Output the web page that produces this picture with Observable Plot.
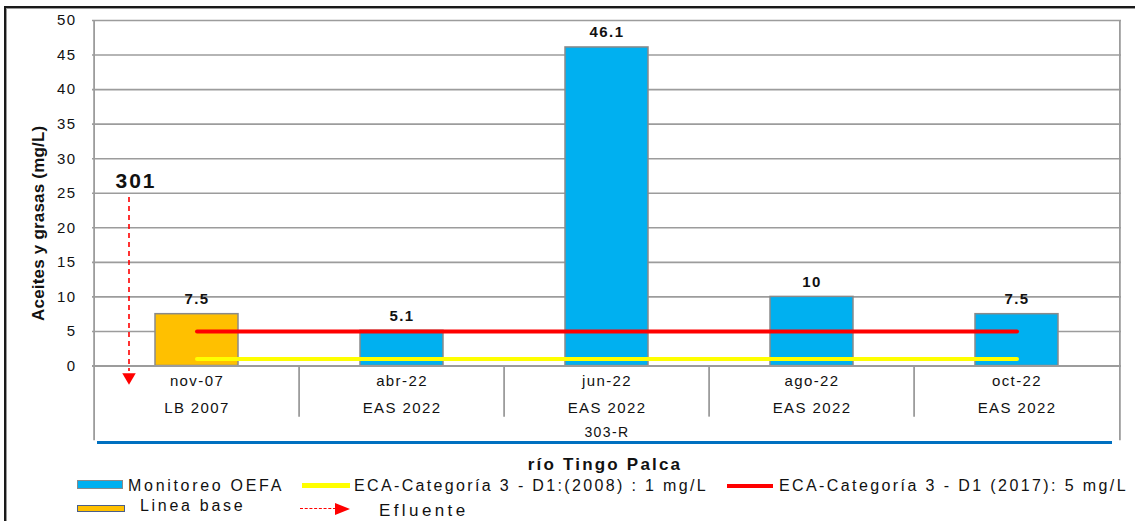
<!DOCTYPE html>
<html>
<head>
<meta charset="utf-8">
<script src="https://cdn.jsdelivr.net/npm/d3@7"></script>
<script src="https://cdn.jsdelivr.net/npm/@observablehq/plot@0.6"></script>
<style>
  body { margin: 0; background: #fff; }
  #wrap { position: relative; width: 1135px; height: 521px; overflow: hidden; font-family: "Liberation Sans", Arial, sans-serif; color: #111; }
  #border { position: absolute; left: 4px; top: 6px; width: 1300px; height: 700px; border: 2px solid #1a1a1a; box-shadow: 1px 1px 0 #999 inset; }
  #chart { position: absolute; left: 0; top: 0; }
  .leg { position: absolute; white-space: nowrap; line-height: 18px; font-size: 16px; }
  .sw { position: absolute; }
</style>
</head>
<body>
<div id="wrap">
  <div id="border"></div>
  <div id="chart"></div>
  <div id="legend"></div>
</div>
<script>
// ---- data ----
const fechas   = ["nov-07", "abr-22", "jun-22", "ago-22", "oct-22"];
const campanas = ["LB 2007", "EAS 2022", "EAS 2022", "EAS 2022", "EAS 2022"];
const valores  = [7.5, 5.1, 46.1, 10, 7.5];
const tipos    = ["Linea base", "Monitoreo OEFA", "Monitoreo OEFA", "Monitoreo OEFA", "Monitoreo OEFA"];
const estacion = "303-R";
const punto    = "301";
const rio      = "río Tingo Palca";
const eca2008  = 1;   // ECA-Categoría 3 - D1:(2008)
const eca2017  = 5;   // ECA-Categoría 3 - D1 (2017)
const yTicks   = [0, 5, 10, 15, 20, 25, 30, 35, 40, 45, 50];
const yTitle   = "Aceites y grasas (mg/L)";

const colores = {"Monitoreo OEFA": "#00B0F0", "Linea base": "#FFC000"};
const data = fechas.map((f, i) => ({fecha: f, campana: campanas[i], valor: valores[i], tipo: tipos[i]}));

const W = 1135, H = 450, mL = 92, mR = 14, mT = 20, mB = 84.5;
const step = (W - mL - mR) / fechas.length;
const grid = "#9c9c9c";

const plot = Plot.plot({
  width: W, height: H,
  marginLeft: mL, marginRight: mR, marginTop: mT, marginBottom: mB,
  style: {fontFamily: "'Liberation Sans', Arial, sans-serif", fontSize: "15px", letterSpacing: "1.4px", color: "#111", background: "transparent", overflow: "visible"},
  x: {type: "band", domain: fechas, padding: 0, axis: null},
  y: {domain: [0, 50], axis: null},
  marks: [
    // gridlines
    Plot.ruleY(yTicks.filter(d => d > 0), {stroke: grid, strokeWidth: 1.6}),
    // frame left/right + separators of the table under the axis
    Plot.ruleX([fechas[0]], {x: d => d, dx: -step / 2, y1: 50, y2: -10.8, stroke: grid, strokeWidth: 1.8}),
    Plot.ruleX([fechas[fechas.length - 1]], {x: d => d, dx: step / 2, y1: 50, y2: -10.8, stroke: grid, strokeWidth: 1.8}),
    Plot.ruleX(fechas.slice(1), {x: d => d, dx: -step / 2, y1: 0, y2: -7.4, stroke: grid, strokeWidth: 1.8}),
    // bars
    Plot.barY(data, {x: "fecha", y: "valor", fill: d => colores[d.tipo], stroke: "#8a8a8a", strokeWidth: 1.5, insetLeft: 61, insetRight: 61}),
    Plot.ruleY([0], {stroke: grid, strokeWidth: 1.8}),
    // ECA lines
    Plot.lineY(fechas, {x: d => d, y: () => eca2008, stroke: "#FFFF00", strokeWidth: 4}),
    Plot.lineY(fechas, {x: d => d, y: () => eca2017, stroke: "#FF0000", strokeWidth: 4}),
    // value labels
    Plot.text(data, {x: "fecha", y: "valor", text: d => String(d.valor), dy: -15, fontWeight: "bold", fontSize: 15, fill: "#111"}),
    // y axis
    Plot.axisY({ticks: yTicks, tickSize: 0, tickPadding: 16, fontSize: 15, label: null, fill: "#111"}),
    Plot.text([yTitle], {frameAnchor: "left", textAnchor: "middle", dx: -54, dy: 30, rotate: -90, fontWeight: "bold", fontSize: 17, fill: "#111"}),
    // category labels
    Plot.text(fechas, {x: d => d, frameAnchor: "bottom", dy: 20, fill: "#111"}),
    Plot.text(fechas, {x: d => d, text: (d, i) => campanas[i], frameAnchor: "bottom", dy: 47, fill: "#111"}),
    Plot.text([estacion], {frameAnchor: "bottom", dy: 71, fontSize: 14, fill: "#111"}),
    // effluent point annotation
    Plot.text([fechas[0]], {x: d => d, y: () => 25, text: () => punto, dx: -61, dy: -12, fontSize: 21, fontWeight: "bold", fill: "#111"}),
    Plot.ruleX([fechas[0]], {x: d => d, dx: -68, y1: 24.4, y2: -0.8, stroke: "#FF0000", strokeWidth: 1.6, strokeDasharray: "5,4"}),
    Plot.dot([fechas[0]], {x: d => d, y: () => -1.6, dx: -68, symbol: "triangle", rotate: 180, r: 5, fill: "#FF0000", stroke: null})
  ]
});

d3.select(plot).selectAll("text").filter(function() { return this.textContent === yTitle; })
  .style("letter-spacing", "0.2px");
d3.select(plot).selectAll("text").filter(function() { return this.textContent === punto; })
  .style("letter-spacing", "2px");

document.getElementById("chart").appendChild(plot);

// ---- legend (HTML below the SVG) ----
const legend = document.getElementById("legend");
function add(html) { legend.insertAdjacentHTML("beforeend", html); }
add(`<div class="sw" style="left:97px;top:441px;width:1015px;height:3px;background:#0070C0"></div>`);
add(`<div class="leg" style="left:605px;top:456px;transform:translateX(-50%);font-weight:bold;font-size:17px;letter-spacing:2.2px">${rio}</div>`);
add(`<div class="sw" style="left:77px;top:480px;width:44px;height:7px;background:${colores["Monitoreo OEFA"]};border:1.5px solid #8a8a8a"></div>`);
add(`<div class="leg" style="left:128px;top:477px;letter-spacing:2.7px">Monitoreo OEFA</div>`);
add(`<div class="sw" style="left:302px;top:483px;width:48px;height:5px;background:#FFFF00"></div>`);
add(`<div class="leg" style="left:354px;top:477px;letter-spacing:2.35px">ECA-Categoría 3 - D1:(2008) : ${eca2008} mg/L</div>`);
add(`<div class="sw" style="left:727px;top:484px;width:46px;height:4px;background:#FF0000"></div>`);
add(`<div class="leg" style="left:779px;top:477px;letter-spacing:2.4px">ECA-Categoría 3 - D1 (2017): ${eca2017} mg/L</div>`);
add(`<div class="sw" style="left:77px;top:505px;width:46px;height:5px;background:${colores["Linea base"]};border:1.5px solid #4a5f8a"></div>`);
add(`<div class="leg" style="left:140px;top:497px;letter-spacing:2.7px">Linea base</div>`);
add(`<div class="sw" style="left:300px;top:508px;width:36px;height:0;border-top:1.6px dashed #FF0000"></div>`);
add(`<div class="sw" style="left:335px;top:503px;width:0;height:0;border-top:6px solid transparent;border-bottom:6px solid transparent;border-left:15px solid #FF0000"></div>`);
add(`<div class="leg" style="left:379px;top:502px;font-size:17px;letter-spacing:3.4px">Efluente</div>`);
</script>
</body>
</html>
